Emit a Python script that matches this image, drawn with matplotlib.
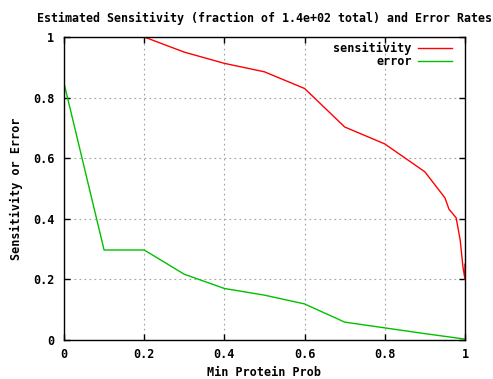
import matplotlib
matplotlib.use('Agg')
import matplotlib.pyplot as plt

# data
sens_x = [0.2, 0.3, 0.4, 0.5, 0.6, 0.7, 0.8, 0.9, 0.95, 0.96, 0.978, 0.988, 0.995, 1.0, 1.0]
sens_y = [1.0, 0.95, 0.913, 0.885, 0.83, 0.703, 0.647, 0.555, 0.469, 0.432, 0.403, 0.33, 0.24, 0.2, 0.25]
err_x = [0.0, 0.1, 0.2, 0.3, 0.4, 0.5, 0.6, 0.7, 0.8, 0.9, 1.0]
err_y = [0.848, 0.297, 0.297, 0.217, 0.17, 0.148, 0.119, 0.059, 0.04, 0.021, 0.003]
x_ticks = [0, 0.2, 0.4, 0.6, 0.8, 1]
x_labels = ['0', '0.2', '0.4', '0.6', '0.8', '1']
y_ticks = [0, 0.2, 0.4, 0.6, 0.8, 1]
y_labels = ['0', '0.2', '0.4', '0.6', '0.8', '1']

plt.rcParams['font.family'] = 'DejaVu Sans Mono'
plt.rcParams['font.weight'] = 'bold'
fs = 8.5

fig = plt.figure(figsize=(4.93, 3.79), dpi=100)
ax = fig.add_axes([0.1298, 0.1029, 0.8134, 0.7995])

ax.plot(sens_x, sens_y, color='#ff0000', lw=1, label='sensitivity')
ax.plot(err_x, err_y, color='#00c000', lw=1, label='error')

ax.set_xlim(0, 1)
ax.set_ylim(0, 1)
ax.set_xticks(x_ticks)
ax.set_xticklabels(x_labels, fontsize=fs, fontweight='bold')
ax.set_yticks(y_ticks)
ax.set_yticklabels(y_labels, fontsize=fs, fontweight='bold')
ax.tick_params(direction='in', length=4, width=1, top=True, right=True, colors='black')
ax.tick_params(axis='x', pad=5.5)
ax.tick_params(axis='y', pad=7)
ax.grid(True, linestyle=(0, (1.5, 3)), color='#a0a0a0', lw=0.8)
for s in ax.spines.values():
    s.set_linewidth(1)

ax.set_title('Estimated Sensitivity (fraction of 1.4e+02 total) and Error Rates',
             fontsize=8.35, fontweight='bold', pad=11)
ax.set_xlabel('Min Protein Prob', fontsize=fs, fontweight='bold', labelpad=4)
ax.set_ylabel('Sensitivity or Error', fontsize=fs, fontweight='bold', labelpad=7)

ax.legend(loc='upper right', bbox_to_anchor=(0.979, 1.0), frameon=False, markerfirst=False,
          fontsize=fs, handlelength=2.9, labelspacing=0.0, borderaxespad=0.0, handletextpad=0.5)

fig.savefig('out.png', dpi=100)
